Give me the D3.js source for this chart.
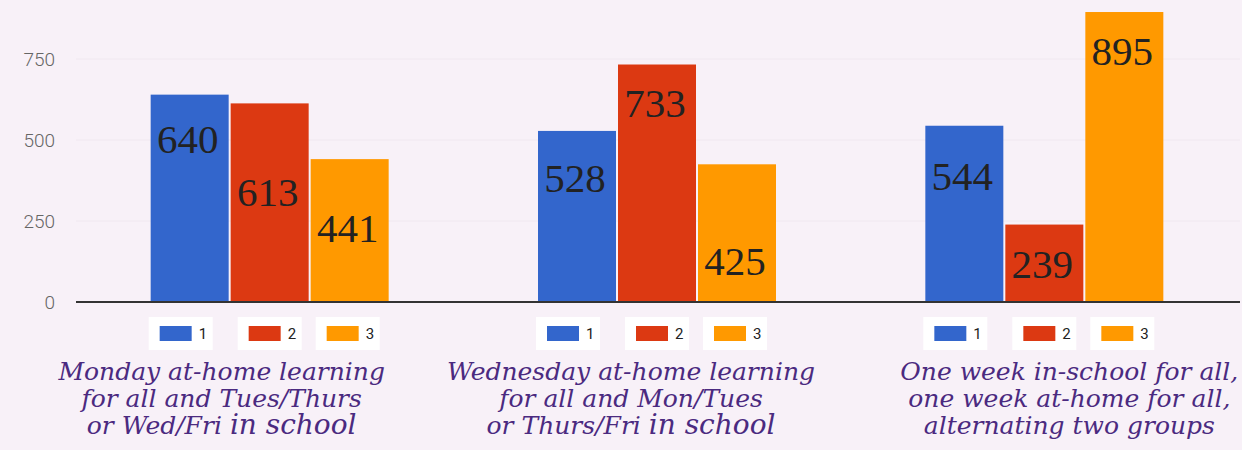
<!DOCTYPE html>
<html>
<head>
<meta charset="utf-8">
<script src="https://cdn.jsdelivr.net/npm/d3@7"></script>
<style>
  body { margin: 0; background: #f8f1f8; }
  svg { display: block; }
</style>
</head>
<body>
<div id="chart"></div>
<script>
// data
var categories = ["mon", "wed", "week"];
var series = ["1", "2", "3"];
var values = [
  [640, 613, 441],
  [528, 733, 425],
  [544, 239, 895]
];
var yTicks = [0, 250, 500, 750];
var titles = [
  [["Monday at-home learning"], ["for all and Tues/Thurs"], ["or Wed/Fri ", "in school"]],
  [["Wednesday at-home learning"], ["for all and Mon/Tues"], ["or Thurs/Fri ", "in school"]],
  [["One week in-school for all,"], ["one week at-home for all,"], ["alternating two groups"]]
];

// layout only: how far each value label sits below its bar top (px)
var labelDrop = [
  [58, 103, 83],
  [61, 52, 111],
  [64, 53, 53]
];
var legendOffset = [-89, 0, 78];
var titleShift = [-48, -26, 25];
var colors = ["#3366cc", "#dc3912", "#ff9900"];

var width = 1242, height = 450;

var svg = d3.select("#chart").append("svg")
  .attr("width", width)
  .attr("height", height);

svg.append("rect")
  .attr("width", width)
  .attr("height", height)
  .attr("fill", "#f8f1f8");

var y = d3.scaleLinear()
  .domain([0, 750])
  .range([302, 59]);

var x0 = d3.scaleBand()
  .domain(categories)
  .range([76, 1238]);

var bw = x0.bandwidth();
var x1 = d3.scaleBand()
  .domain(series)
  .range([bw / 2 - 119, bw / 2 + 119])
  .paddingInner(0.025);

// gridlines
svg.append("g")
  .selectAll("line")
  .data(yTicks.slice(1))
  .enter().append("line")
  .attr("x1", 76)
  .attr("x2", 1240)
  .attr("y1", function(d) { return y(d); })
  .attr("y2", function(d) { return y(d); })
  .attr("stroke", "#f0e8f0")
  .attr("stroke-width", 1);

// y axis
var yAxis = d3.axisLeft(y)
  .tickValues(yTicks)
  .tickSize(0)
  .tickPadding(0);

var ya = svg.append("g")
  .attr("transform", "translate(55,0)")
  .call(yAxis);
ya.select(".domain").remove();
ya.selectAll("text")
  .attr("font-family", "Roboto, Arial, sans-serif")
  .attr("font-size", 19)
  .attr("font-weight", 300)
  .attr("fill", "#666");

var groups = svg.selectAll(".group")
  .data(categories)
  .enter().append("g")
  .attr("class", "group")
  .attr("transform", function(d) { return "translate(" + x0(d) + ",0)"; });

function rows(d, i) {
  return values[i].map(function(v, j) { return { s: series[j], v: v, j: j, i: i }; });
}

groups.selectAll("rect.bar")
  .data(rows)
  .enter().append("rect")
  .attr("class", "bar")
  .attr("x", function(d) { return x1(d.s); })
  .attr("width", x1.bandwidth())
  .attr("y", function(d) { return y(d.v); })
  .attr("height", function(d) { return y(0) - y(d.v); })
  .attr("fill", function(d) { return colors[d.j]; });

groups.selectAll("text.val")
  .data(rows)
  .enter().append("text")
  .attr("class", "val")
  .attr("x", function(d) { return x1(d.s) + x1.bandwidth() / 2 - 2; })
  .attr("y", function(d) { return y(d.v) + labelDrop[d.i][d.j]; })
  .attr("text-anchor", "middle")
  .attr("font-family", "'Liberation Serif', 'Times New Roman', serif")
  .attr("font-size", 41)
  .attr("fill", "#222")
  .text(function(d) { return d.v; });

// baseline
svg.append("line")
  .attr("x1", 76)
  .attr("x2", 1240)
  .attr("y1", y(0))
  .attr("y2", y(0))
  .attr("stroke", "#333")
  .attr("stroke-width", 2);

// legends
var leg = groups.selectAll("g.leg")
  .data(series)
  .enter().append("g")
  .attr("class", "leg")
  .attr("transform", function(d, j) {
    return "translate(" + (bw / 2 + legendOffset[j]) + ",334)";
  });

leg.append("rect")
  .attr("x", -32)
  .attr("y", -17)
  .attr("width", 64)
  .attr("height", 33)
  .attr("fill", "#fff");

leg.append("rect")
  .attr("x", -21)
  .attr("y", -8)
  .attr("width", 32)
  .attr("height", 15)
  .attr("fill", function(d, j) { return colors[j]; });

leg.append("text")
  .attr("x", 18)
  .attr("y", 5)
  .attr("font-family", "Roboto, Arial, sans-serif")
  .attr("font-size", 15)
  .attr("fill", "#222")
  .text(function(d) { return d; });

// category titles
groups.each(function(c, i) {
  var g = d3.select(this);
  titles[i].forEach(function(parts, k) {
    var t = g.append("text")
      .attr("x", bw / 2 + titleShift[i])
      .attr("y", 380 + k * 27)
      .attr("text-anchor", "middle")
      .attr("font-family", "'DejaVu Serif', serif")
      .attr("font-style", "italic")
      .attr("fill", "#4b2a80");
    parts.forEach(function(p, m) {
      t.append("tspan")
        .attr("font-size", m == 1 ? 28 : 25)
        .text(p);
    });
  });
});
</script>
</body>
</html>
